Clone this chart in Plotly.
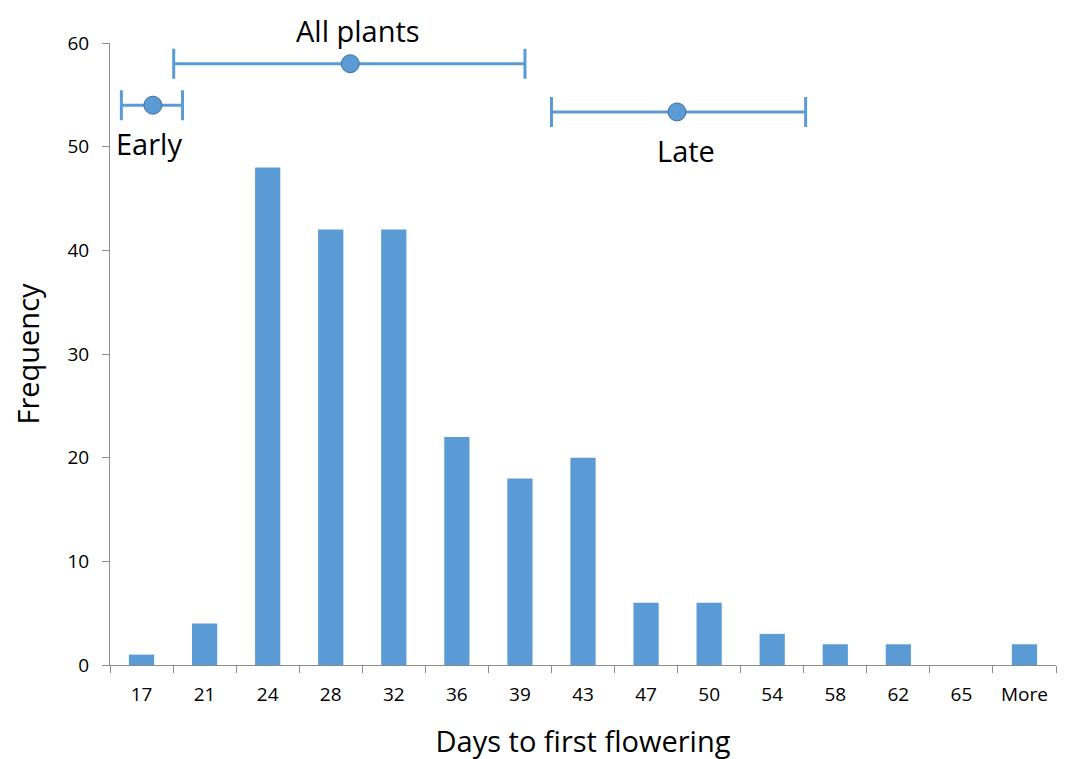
import plotly.graph_objects as go

categories = ["17", "21", "24", "28", "32", "36", "39", "43", "47", "50", "54", "58", "62", "65", "More"]
frequency = [1, 4, 48, 42, 42, 22, 18, 20, 6, 6, 3, 2, 2, 0, 2]

group_names = ["Early", "All plants", "Late"]
group_center = [0.18, 3.31, 8.49]          # in bin-index units
group_err_minus = [0.50, 2.80, 1.99]
group_err_plus = [0.47, 2.77, 2.04]
group_y = [54.0, 58.0, 53.35]

BLUE = "#5B9BD5"
FONT = "Open Sans"
AXIS_GREY = "#8c8c8c"

fig = go.Figure()
fig.add_trace(go.Bar(x=categories, y=frequency, marker=dict(color=BLUE, line=dict(width=0)),
                     width=0.4, showlegend=False, hoverinfo="x+y"))
fig.add_trace(go.Scatter(
    x=group_center, y=group_y, xaxis="x2", mode="markers", text=group_names,
    marker=dict(size=18, color=BLUE, line=dict(color="#41719C", width=1)),
    error_x=dict(type="data", symmetric=False, array=group_err_plus, arrayminus=group_err_minus,
                 color=BLUE, thickness=3, width=15),
    showlegend=False))

fig.update_layout(
    width=1065, height=759,
    margin=dict(l=102, r=17, t=35, b=102),
    plot_bgcolor="white", paper_bgcolor="white",
    font=dict(family=FONT, color="black"),
    xaxis=dict(type="category", tickson="boundaries", ticks="outside", ticklen=7, tickcolor=AXIS_GREY,
               showline=True, linecolor=AXIS_GREY, linewidth=1, showgrid=False, automargin=False,
               tickfont=dict(size=19), ticklabelstandoff=12,
               title=dict(text="Days to first flowering", font=dict(size=29), standoff=25),
               range=[-0.5, 14.5]),
    xaxis2=dict(overlaying="x", range=[-0.5, 14.5], visible=False),
    yaxis=dict(range=[0, 60], dtick=10, ticks="outside", ticklen=7, tickcolor=AXIS_GREY,
               showline=True, linecolor=AXIS_GREY, linewidth=1, showgrid=False, zeroline=False,
               automargin=False, tickfont=dict(size=19), ticklabelstandoff=9,
               title=dict(text="Frequency", font=dict(size=29), standoff=19)),
)

ann_x = [0.125, 3.43, 8.63]
ann_y = [50.3 / 60, 1.0547, 49.6 / 60]
ann_anchor = ["middle", "top", "middle"]
for name, ax, ay, anc in zip(group_names, ann_x, ann_y, ann_anchor):
    fig.add_annotation(x=ax, y=ay, xref="x2", yref="paper", text=name, showarrow=False,
                       font=dict(size=29, family=FONT), yanchor=anc)

fig.write_html("out.html")
